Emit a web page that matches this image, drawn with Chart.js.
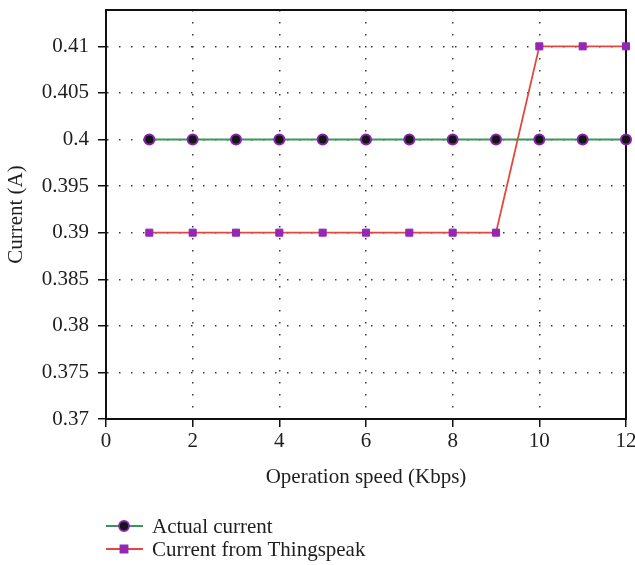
<!DOCTYPE html>
<html>
<head>
<meta charset="utf-8">
<script src="https://cdn.jsdelivr.net/npm/chart.js@4"></script>
<style>
  html, body { margin: 0; padding: 0; background: #fff; }
  #wrap { width: 635px; height: 565px; }
</style>
</head>
<body>
<div id="wrap"><canvas id="c" width="635" height="565"></canvas></div>
<script>
// Operation speed (Kbps)
const speeds = [1, 2, 3, 4, 5, 6, 7, 8, 9, 10, 11, 12];
// Measured current (A)
const actualCurrent = [0.40, 0.40, 0.40, 0.40, 0.40, 0.40, 0.40, 0.40, 0.40, 0.40, 0.40, 0.40];
// Current reported through Thingspeak (A)
const thingspeakCurrent = [0.39, 0.39, 0.39, 0.39, 0.39, 0.39, 0.39, 0.39, 0.39, 0.41, 0.41, 0.41];

const seriesNames = ['Actual current', 'Current from Thingspeak'];
const yTickValues = [0.37, 0.375, 0.38, 0.385, 0.39, 0.395, 0.40, 0.405, 0.41];
const yTickLabels = ['0.37', '0.375', '0.38', '0.385', '0.39', '0.395', '0.4', '0.405', '0.41'];
const xTickValues = [0, 2, 4, 6, 8, 10, 12];
const xTickLabels = ['0', '2', '4', '6', '8', '10', '12'];

const FONT = 'Liberation Serif';
const FONT_SIZE = 21;
const TEXT = '#1e1e1e';

const toPoints = ys => speeds.map((x, i) => ({ x, y: ys[i] }));

// frame around the plotting area, drawn under the markers
const frame = {
  id: 'frame',
  beforeDatasetsDraw(chart) {
    const { ctx, chartArea: a } = chart;
    ctx.save();
    ctx.strokeStyle = '#111';
    ctx.lineWidth = 2;
    ctx.strokeRect(a.left, a.top, a.right - a.left, a.bottom - a.top);
    ctx.restore();
  }
};

// stacked legend below the axis: line sample with marker, then name
const stackedLegend = {
  id: 'stackedLegend',
  afterDraw(chart) {
    const { ctx } = chart;
    ctx.save();
    chart.data.datasets.forEach((ds, i) => {
      const y = 526 + i * 23;
      ctx.strokeStyle = ds.borderColor;
      ctx.lineWidth = ds.borderWidth;
      ctx.beginPath();
      ctx.moveTo(106, y);
      ctx.lineTo(143, y);
      ctx.stroke();
      ctx.fillStyle = ds.pointBackgroundColor;
      ctx.strokeStyle = ds.pointBorderColor;
      Chart.helpers.drawPoint(ctx, {
        pointStyle: ds.pointStyle,
        radius: ds.pointRadius,
        rotation: 0,
        borderWidth: ds.pointBorderWidth
      }, 124, y);
      ctx.fillStyle = TEXT;
      ctx.font = FONT_SIZE + 'px "' + FONT + '"';
      ctx.textAlign = 'left';
      ctx.textBaseline = 'middle';
      ctx.fillText(ds.label, 152, y + 1);
    });
    ctx.restore();
  }
};

const gridOpts = {
  color: '#3a3a3a',
  lineWidth: 1.5,
  drawTicks: true,
  tickLength: 8,
  tickColor: '#111',
  tickWidth: 1.5,
  tickBorderDash: []
};
const borderOpts = { display: true, color: '#111', width: 2, dash: [1.5, 10.5] };

new Chart(document.getElementById('c'), {
  type: 'line',
  data: {
    datasets: [
      {
        label: seriesNames[0],
        data: toPoints(actualCurrent),
        borderColor: '#3a9558',
        borderWidth: 1.8,
        pointStyle: 'circle',
        pointRadius: 5,
        pointBackgroundColor: '#151515',
        pointBorderColor: '#8a22b0',
        pointBorderWidth: 2,
        clip: false,
        tension: 0
      },
      {
        label: seriesNames[1],
        data: toPoints(thingspeakCurrent),
        borderColor: '#e4463e',
        borderWidth: 1.8,
        pointStyle: 'rect',
        pointRadius: 5,
        pointBackgroundColor: '#9427b3',
        pointBorderColor: '#9427b3',
        pointBorderWidth: 1,
        clip: false,
        tension: 0
      }
    ]
  },
  options: {
    responsive: false,
    animation: false,
    devicePixelRatio: 1,
    layout: { padding: { left: 0, right: 9, top: 10, bottom: 75 } },
    plugins: {
      legend: { display: false },
      tooltip: { enabled: false }
    },
    scales: {
      x: {
        type: 'linear',
        min: 0,
        max: 12,
        afterBuildTicks(scale) { scale.ticks = xTickValues.map(v => ({ value: v })); },
        afterFit(scale) {
          scale.height = 71;
          scale.paddingLeft = 0;
          scale.paddingRight = 0;
        },
        ticks: {
          color: TEXT,
          font: { family: FONT, size: FONT_SIZE },
          padding: 2,
          maxRotation: 0,
          autoSkip: false,
          callback: (v, i) => xTickLabels[i]
        },
        grid: gridOpts,
        border: borderOpts,
        title: {
          display: true,
          text: 'Operation speed (Kbps)',
          color: TEXT,
          font: { family: FONT, size: FONT_SIZE },
          padding: { top: 0, bottom: 0 }
        }
      },
      y: {
        type: 'linear',
        min: 0.37,
        max: 0.4139,
        afterBuildTicks(scale) { scale.ticks = yTickValues.map(v => ({ value: v })); },
        afterFit(scale) {
          scale.width = 106;
          scale.paddingTop = 0;
          scale.paddingBottom = 0;
        },
        ticks: {
          color: TEXT,
          font: { family: FONT, size: FONT_SIZE },
          padding: 9,
          autoSkip: false,
          callback: (v, i) => yTickLabels[i]
        },
        grid: gridOpts,
        border: borderOpts,
        title: {
          display: true,
          text: 'Current (A)',
          color: TEXT,
          font: { family: FONT, size: FONT_SIZE },
          padding: { top: 4, bottom: 0 }
        }
      }
    }
  },
  plugins: [frame, stackedLegend]
});
</script>
</body>
</html>
